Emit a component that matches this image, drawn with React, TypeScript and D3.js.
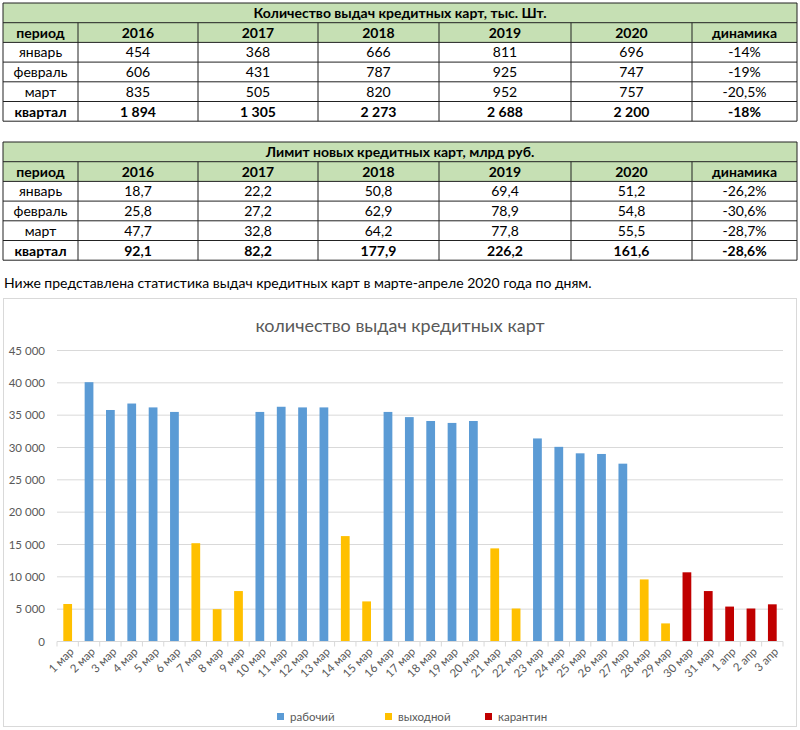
import React from "react";
import * as d3 from "d3";

// ---------- table data ----------
const years = ["2016", "2017", "2018", "2019", "2020"];
const periods = ["январь", "февраль", "март", "квартал"];

const countTitle = "Количество выдач кредитных карт, тыс. Шт.";
const countJanuary = [454, 368, 666, 811, 696];
const countFebruary = [606, 431, 787, 925, 747];
const countMarch = [835, 505, 820, 952, 757];
const countQuarter = [1894, 1305, 2273, 2688, 2200];
const countDynamics = [-14, -19, -20.5, -18];

const limitTitle = "Лимит новых кредитных карт, млрд руб.";
const limitJanuary = [18.7, 22.2, 50.8, 69.4, 51.2];
const limitFebruary = [25.8, 27.2, 62.9, 78.9, 54.8];
const limitMarch = [47.7, 32.8, 64.2, 77.8, 55.5];
const limitQuarter = [92.1, 82.2, 177.9, 226.2, 161.6];
const limitDynamics = [-26.2, -30.6, -28.7, -28.6];

const introText =
  "Ниже представлена статистика выдач кредитных карт в марте-апреле 2020 года по дням.";

// ---------- chart data ----------
const chartTitle = "количество выдач кредитных карт";
const days = [
  "1 мар", "2 мар", "3 мар", "4 мар", "5 мар", "6 мар", "7 мар", "8 мар", "9 мар", "10 мар",
  "11 мар", "12 мар", "13 мар", "14 мар", "15 мар", "16 мар", "17 мар", "18 мар", "19 мар", "20 мар",
  "21 мар", "22 мар", "23 мар", "24 мар", "25 мар", "26 мар", "27 мар", "28 мар", "29 мар", "30 мар",
  "31 мар", "1 апр", "2 апр", "3 апр",
];
const issued = [
  5800, 40100, 35800, 36800, 36200, 35500, 15200, 5000, 7800, 35500,
  36300, 36200, 36200, 16300, 6200, 35500, 34700, 34100, 33800, 34100,
  14400, 5100, 31400, 30100, 29100, 29000, 27500, 9600, 2800, 10700,
  7800, 5400, 5100, 5750,
];
const dayTypes = [
  "выходной", "рабочий", "рабочий", "рабочий", "рабочий", "рабочий", "выходной", "выходной", "выходной", "рабочий",
  "рабочий", "рабочий", "рабочий", "выходной", "выходной", "рабочий", "рабочий", "рабочий", "рабочий", "рабочий",
  "выходной", "выходной", "рабочий", "рабочий", "рабочий", "рабочий", "рабочий", "выходной", "выходной", "карантин",
  "карантин", "карантин", "карантин", "карантин",
];
const legendTypes = ["рабочий", "выходной", "карантин"];
const typeColors = ["#5B9BD5", "#FFC000", "#C00000"];
const yTicks = [0, 5000, 10000, 15000, 20000, 25000, 30000, 35000, 40000, 45000];

// ---------- formatting ----------
const ru = d3.formatLocale({
  decimal: ",",
  thousands: "\u00a0",
  grouping: [3],
  currency: ["", ""],
  minus: "-",
});
const fmtInt = ru.format(",d");
const fmt1 = ru.format(".1f");
const fmtPct = (v: number) => (Number.isInteger(v) ? ru.format("d")(v) : fmt1(v)) + "%";

const FONT = "Lato, 'Liberation Sans', Arial, sans-serif";
const GREEN = "#C6E0B4";

const colEdges = [3, 78, 198, 318, 439, 571, 692, 797];

type TableProps = {
  top: number;
  title: string;
  rows: number[][];
  dyn: number[];
  fmt: (v: number) => string;
};

function DataTable({ top, title, rows, dyn, fmt }: TableProps) {
  const rowH = 19.7;
  const edges = d3.range(7).map((i) => top + i * rowH);
  const headers = ["период", ...years, "динамика"];
  const left = colEdges[0];
  const right = colEdges[colEdges.length - 1];
  const cx = (i: number) => (colEdges[i] + colEdges[i + 1]) / 2;
  return (
    <g fontFamily={FONT} fill="#000">
      <rect x={left} y={edges[0]} width={right - left} height={edges[2] - edges[0]} fill={GREEN} />
      {edges.map((y, i) => (
        <line key={"h" + i} x1={left} x2={right} y1={y} y2={y} stroke="#222" strokeWidth={1} />
      ))}
      <line x1={left} x2={left} y1={edges[0]} y2={edges[6]} stroke="#222" />
      <line x1={right} x2={right} y1={edges[0]} y2={edges[6]} stroke="#222" />
      {colEdges.slice(1, -1).map((x, i) => (
        <line key={"v" + i} x1={x} x2={x} y1={edges[1]} y2={edges[6]} stroke="#222" />
      ))}
      <text x={(left + right) / 2} y={edges[0] + 15} textAnchor="middle" fontWeight="bold" fontSize={14}>
        {title}
      </text>
      {headers.map((h, i) => (
        <text key={"hd" + i} x={cx(i)} y={edges[1] + 15} textAnchor="middle" fontWeight="bold" fontSize={14}>
          {h}
        </text>
      ))}
      {rows.map((r, ri) => {
        const bold = ri === rows.length - 1;
        const y = edges[2 + ri] + 15;
        return (
          <g key={"r" + ri} fontWeight={bold ? "bold" : "normal"} fontSize={14}>
            <text x={cx(0)} y={y} textAnchor="middle">{periods[ri]}</text>
            {r.map((v, ci) => (
              <text key={ci} x={cx(ci + 1)} y={y} textAnchor="middle">{fmt(v)}</text>
            ))}
            <text x={cx(6)} y={y} textAnchor="middle">{fmtPct(dyn[ri])}</text>
          </g>
        );
      })}
    </g>
  );
}

function BarChart() {
  const x0 = 57;
  const x1 = 783;
  const yBase = 641.5;
  const yTop = 350.5;
  const x = d3.scaleBand<string>().domain(days).range([x0, x1]).padding(0);
  const y = d3.scaleLinear().domain([0, 45000]).range([yBase, yTop]);
  const color = d3.scaleOrdinal<string, string>().domain(legendTypes).range(typeColors);
  const step = x.step();
  const bw = step * 0.41;
  const gray = "#595959";
  const legendX = [277, 385, 485];
  return (
    <g fontFamily={FONT}>
      <rect x={3.5} y={298.5} width={793} height={428} fill="#fff" stroke="#D9D9D9" />
      <text x={400} y={332} textAnchor="middle" fontSize={18} fill={gray}>
        {chartTitle}
      </text>
      {yTicks.map((t) => (
        <g key={t}>
          {t > 0 && <line x1={x0} x2={x1} y1={y(t)} y2={y(t)} stroke="#D9D9D9" />}
          <text x={45} y={y(t)} dy="0.35em" textAnchor="end" fontSize={11.5} fill={gray}>
            {ru.format(",d")(t)}
          </text>
        </g>
      ))}
      {days.map((d, i) => (
        <rect
          key={d}
          x={(x(d) as number) + (step - bw) / 2}
          y={y(issued[i])}
          width={bw}
          height={yBase - y(issued[i])}
          fill={color(dayTypes[i])}
        />
      ))}
      <line x1={x0} x2={x1} y1={yBase} y2={yBase} stroke="#D9D9D9" />
      {[...days.map((d) => x(d) as number), x1].map((tx, i) => (
        <line key={"t" + i} x1={tx} x2={tx} y1={yBase} y2={yBase + 5} stroke="#D9D9D9" />
      ))}
      {days.map((d) => {
        const cx = (x(d) as number) + step / 2 + 4;
        return (
          <text
            key={"l" + d}
            transform={`translate(${cx},${yBase + 8}) rotate(-45)`}
            textAnchor="end"
            dy="0.35em"
            fontSize={11.5}
            fill={gray}
          >
            {d}
          </text>
        );
      })}
      {legendTypes.map((t, i) => (
        <g key={t}>
          <rect x={legendX[i]} y={713} width={7} height={7} fill={typeColors[i]} />
          <text x={legendX[i] + 13} y={720.5} fontSize={11.5} fill={gray}>
            {t}
          </text>
        </g>
      ))}
    </g>
  );
}

export default function App() {
  return (
    <svg
      width={800}
      height={730}
      style={{ position: "absolute", left: 0, top: 0, background: "#fff" }}
    >
      <rect x={0} y={0} width={800} height={730} fill="#fff" />
      <DataTable
        top={3}
        title={countTitle}
        rows={[countJanuary, countFebruary, countMarch, countQuarter]}
        dyn={countDynamics}
        fmt={fmtInt}
      />
      <DataTable
        top={142}
        title={limitTitle}
        rows={[limitJanuary, limitFebruary, limitMarch, limitQuarter]}
        dyn={limitDynamics}
        fmt={fmt1}
      />
      <text x={4} y={288} fontFamily={FONT} fontSize={14} fill="#000">
        {introText}
      </text>
      <BarChart />
    </svg>
  );
}
